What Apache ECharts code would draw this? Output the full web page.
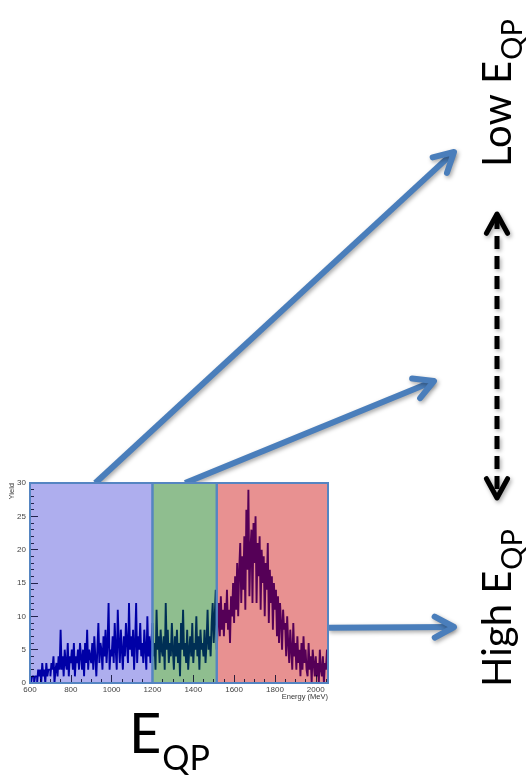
<!DOCTYPE html>
<html>
<head>
<meta charset="utf-8">
<script src="https://cdn.jsdelivr.net/npm/echarts@6/dist/echarts.min.js"></script>
<style>
  html, body { margin: 0; padding: 0; background: #ffffff; }
  #chart { width: 529px; height: 779px; }
</style>
</head>
<body>
<div id="chart"></div>
<script>
// Energy spectrum: counts per 5 MeV bin, first bin starting at 600 MeV
const binStart = 600;
const binWidth = 5;
const yieldCounts = [
  1,0,1,1,0,1,1,0,2,1,        // 600-645
  2,0,3,1,2,0,3,1,2,2,        // 650-695
  1,3,2,4,0,2,3,1,4,2,        // 700-745
  8,2,4,1,5,3,2,6,1,4,        // 750-795
  3,5,2,6,1,4,3,5,2,6,        // 800-845
  4,2,5,1,6,3,8,2,5,4,        // 850-895
  3,6,2,7,4,1,5,9,3,6,        // 900-945
  5,2,7,4,8,3,6,12,2,5,       // 950-995
  4,7,3,9,5,2,11,6,3,8,       // 1000-1045
  5,2,7,4,9,6,3,12,5,7,       // 1050-1095
  4,8,2,6,12,3,7,5,9,4,       // 1100-1145
  6,3,8,5,2,10,4,7,3,6,       // 1150-1195
  9,4,6,2,11,5,7,3,8,5,       // 1200-1245
  4,7,2,12,5,8,3,6,4,9,       // 1250-1295
  5,2,7,4,8,3,6,1,9,5,        // 1300-1345
  11,4,6,3,8,2,5,7,4,9,       // 1350-1395
  3,6,5,10,4,7,2,8,5,6,       // 1400-1445
  4,8,3,6,11,5,7,4,9,12,      // 1450-1495
  6,10,14,5,9,12,7,13,8,11,   // 1500-1545
  7,12,9,14,8,11,6,13,10,15,  // 1550-1595
  9,16,11,18,10,17,21,12,19,14, // 1600-1645
  22,11,26,17,29,13,20,23,12,24, // 1650-1695
  18,25,12,21,16,22,11,20,15,19, // 1700-1745
  10,18,14,21,9,17,12,16,8,15,   // 1750-1795
  11,14,7,13,6,12,9,5,11,8,   // 1800-1845
  9,4,10,6,3,8,5,2,9,4,       // 1850-1895
  6,2,7,3,5,1,6,2,7,3,        // 1900-1945
  5,2,1,6,2,4,0,5,3,1,        // 1950-1995
  4,1,3,0,5,2,1,4,0,3,        // 2000-2045
  2,5                         // 2050-2055
];

// Axis ranges
const energyMin = 600, energyMax = 2060, energyStep = 200;
const yieldMin = 0, yieldMax = 30, yieldStep = 5;

// Energy windows for the three E_QP selections
const regionEdges = [600, 1200, 1515, 2060];
const regionFills = ['#AEAEEE', '#8FBE8F', '#E89191'];
const regionLineColors = ['#0000A6', '#002F55', '#550057'];
const regionBorder = '#5585C2';

// Arrow anchors on the histogram frame (energy, yield) and their screen targets
const arrowTails = [[920, 30], [1360, 30], [2060, 8.3]];
const arrowTips = [[454, 152], [434, 381], [454, 627]];

const histData = yieldCounts.map((v, i) => [binStart + binWidth * (i + 0.5), v]);
const regionData = regionEdges.slice(0, -1).map((e, i) => [e, regionEdges[i + 1], i]);

const chart = echarts.init(document.getElementById('chart'), null, { renderer: 'canvas' });

const tickStyle = { color: 'rgba(0,0,35,0.8)', width: 1 };
const labelFont = 'Liberation Sans, Arial, sans-serif';

function regionRect(params, api, withFill) {
  const p0 = api.coord([api.value(0), yieldMax]);
  const p1 = api.coord([api.value(1), yieldMin]);
  const idx = api.value(2);
  return {
    type: 'rect',
    shape: { x: p0[0], y: p0[1], width: p1[0] - p0[0], height: p1[1] - p0[1] },
    style: withFill
      ? { fill: regionFills[idx], stroke: null }
      : { fill: null, stroke: regionBorder, lineWidth: 2 }
  };
}

chart.setOption({
  animation: false,
  grid: { left: 30, top: 483, width: 298, height: 200 },
  xAxis: {
    type: 'value', min: energyMin, max: energyMax, interval: energyStep, z: 3,
    axisLine: { show: true, onZero: false, lineStyle: { color: '#111', width: 1 } },
    axisTick: { show: true, inside: true, length: 8, lineStyle: tickStyle },
    minorTick: { show: true, splitNumber: 4, length: 4, lineStyle: tickStyle },
    axisLabel: { fontSize: 8, color: '#444', margin: 3, fontFamily: labelFont, showMaxLabel: false,
                 formatter: v => String(v) },
    splitLine: { show: false }
  },
  yAxis: {
    type: 'value', min: yieldMin, max: yieldMax, interval: yieldStep, z: 3,
    axisLine: { show: true, lineStyle: { color: '#111', width: 1 } },
    axisTick: { show: true, inside: true, length: 8, lineStyle: tickStyle },
    minorTick: { show: true, splitNumber: 5, length: 4, lineStyle: tickStyle },
    axisLabel: { fontSize: 8, color: '#444', margin: 4, fontFamily: labelFont, formatter: v => String(v) },
    splitLine: { show: false }
  },
  visualMap: {
    type: 'piecewise', show: false, dimension: 0, seriesIndex: 1,
    pieces: [
      { lt: regionEdges[1], color: regionLineColors[0] },
      { gte: regionEdges[1], lt: regionEdges[2], color: regionLineColors[1] },
      { gte: regionEdges[2], color: regionLineColors[2] }
    ]
  },
  series: [
    {
      type: 'custom', z: 1, silent: true, data: regionData,
      encode: { x: [0, 1] },
      renderItem: (p, api) => regionRect(p, api, true)
    },
    {
      type: 'line', z: 2, step: 'middle', data: histData,
      showSymbol: false, sampling: null, silent: true,
      lineStyle: { width: 1.9 }
    },
    {
      type: 'custom', z: 4, silent: true, data: regionData,
      encode: { x: [0, 1] },
      renderItem: (p, api) => regionRect(p, api, false)
    }
  ]
});

// ---- annotations: arrows and labels ----
const measureCtx = document.createElement('canvas').getContext('2d');
function textWidth(str, font) { measureCtx.font = font; return measureCtx.measureText(str).width; }

const shadow = { shadowBlur: 4, shadowColor: 'rgba(0,0,0,0.35)', shadowOffsetX: 1.5, shadowOffsetY: 2 };

function chevron(tip, angle, len, spread, color, width) {
  const l = [tip[0] - len * Math.cos(angle - spread), tip[1] - len * Math.sin(angle - spread)];
  const r = [tip[0] - len * Math.cos(angle + spread), tip[1] - len * Math.sin(angle + spread)];
  return {
    type: 'polyline', shape: { points: [l, tip, r] },
    style: Object.assign({ stroke: color, lineWidth: width, fill: null, lineJoin: 'round', lineCap: 'round' }, shadow)
  };
}

const arrowBlue = '#4A7EBB';
const graphics = [];
arrowTails.forEach((t, i) => {
  const tail = chart.convertToPixel({ gridIndex: 0 }, t);
  const tip = arrowTips[i];
  const ang = Math.atan2(tip[1] - tail[1], tip[0] - tail[0]);
  graphics.push({
    type: 'line', shape: { x1: tail[0], y1: tail[1], x2: tip[0] - 2 * Math.cos(ang), y2: tip[1] - 2 * Math.sin(ang) },
    style: Object.assign({ stroke: arrowBlue, lineWidth: 6, lineCap: 'butt' }, shadow)
  });
  graphics.push(chevron(tip, ang, 22, 0.5, arrowBlue, 6));
});

// dashed double-headed arrow between the two labels
const dashX = 497, dashTop = 214, dashBottom = 498;
graphics.push({
  type: 'line', shape: { x1: dashX, y1: dashTop + 2, x2: dashX, y2: dashBottom - 2 },
  style: Object.assign({ stroke: '#000', lineWidth: 5, lineDash: [13, 7] }, shadow)
});
graphics.push(chevron([dashX, dashTop], -Math.PI / 2, 22, 0.5, '#000', 5));
graphics.push(chevron([dashX, dashBottom], Math.PI / 2, 22, 0.5, '#000', 5));

// Axis titles
graphics.push({
  type: 'text', x: 328, y: 697,
  style: { text: 'Energy (MeV)', fontSize: 7.5, fontFamily: labelFont, fill: '#333', align: 'right', verticalAlign: 'middle' }
});
graphics.push({
  type: 'text', x: 11.5, y: 483, rotation: Math.PI / 2,
  style: { text: 'Yield', fontSize: 7.5, fontFamily: labelFont, fill: '#333', align: 'right', verticalAlign: 'middle' }
});

// E with subscript QP, written along a baseline
const bigFont = 'Lato, "Open Sans", sans-serif';
function subscripted(main, sub, size, subSize, subDrop) {
  const w = textWidth(main, size + 'px Lato');
  return [
    { type: 'text', x: 0, y: -0.36 * size,
      style: { text: main, fontSize: size, fontFamily: bigFont, fill: '#000', align: 'left', verticalAlign: 'middle' } },
    { type: 'text', x: w + 1, y: subDrop - 0.36 * subSize,
      style: { text: sub, fontSize: subSize, fontFamily: bigFont, fill: '#000', align: 'left', verticalAlign: 'middle' } }
  ];
}

graphics.push({ type: 'group', x: 129, y: 755, children: subscripted('E', 'QP', 56, 34, 16) });
graphics.push({ type: 'group', x: 512, y: 167, rotation: Math.PI / 2, children: subscripted('Low E', 'QP', 40, 29, 11) });
graphics.push({ type: 'group', x: 512, y: 687, rotation: Math.PI / 2, children: subscripted('High E', 'QP', 40, 29, 11) });

chart.setOption({ graphic: graphics });
</script>
</body>
</html>
